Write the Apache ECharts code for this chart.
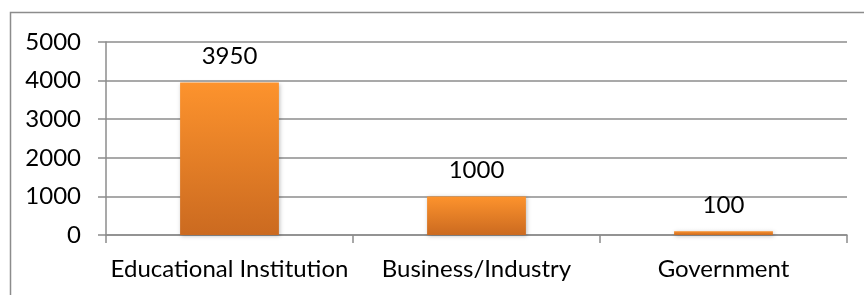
<!DOCTYPE html>
<html>
<head>
<meta charset="utf-8">
<script src="https://cdn.jsdelivr.net/npm/echarts@6/dist/echarts.min.js"></script>
<style>
html,body{margin:0;padding:0;background:#fff;}
#c{width:864px;height:295px;}
</style>
</head>
<body>
<div id="c"></div>
<script>
const categories = ['Educational Institution', 'Business/Industry', 'Government'];
const values = [3950, 1000, 100];
const yTicks = [0, 1000, 2000, 3000, 4000, 5000];

const chart = echarts.init(document.getElementById('c'), null, {renderer: 'canvas'});
const FONT = 'Lato';
const FS = 24;
chart.setOption({
  animation: false,
  backgroundColor: '#ffffff',
  graphic: [{
    type: 'rect',
    shape: {x: 10.5, y: 12.5, width: 900, height: 400},
    style: {fill: 'none', stroke: '#8c8c8c', lineWidth: 1.5},
    silent: true,
    z: -1
  }],
  grid: {left: 106, top: 42, right: 17, bottom: 60},
  xAxis: {
    type: 'category',
    data: categories,
    axisLine: {show: true, lineStyle: {color: '#8c8c8c', width: 1.5}},
    axisTick: {show: true, length: 8, alignWithLabel: false, lineStyle: {color: '#8c8c8c', width: 1.5}},
    axisLabel: {color: '#000', fontFamily: FONT, fontSize: FS, margin: 22, interval: 0}
  },
  yAxis: {
    type: 'value',
    min: yTicks[0],
    max: yTicks[yTicks.length - 1],
    interval: 1000,
    axisLine: {show: true, lineStyle: {color: '#8c8c8c', width: 1.5}},
    axisTick: {show: true, length: 8, lineStyle: {color: '#8c8c8c', width: 1.5}},
    splitLine: {show: true, lineStyle: {color: '#8c8c8c', width: 1.5}},
    axisLabel: {color: '#000', fontFamily: FONT, fontSize: FS, margin: 25, formatter: v => String(v)}
  },
  series: [{
    type: 'bar',
    data: values,
    barWidth: '40%',
    itemStyle: {
      color: {
        type: 'linear', x: 0, y: 0, x2: 0, y2: 1,
        colorStops: [
          {offset: 0, color: '#fd932d'},
          {offset: 1, color: '#cb6a20'}
        ]
      },
      shadowColor: 'rgba(0,0,0,0.25)',
      shadowBlur: 4,
      shadowOffsetX: 1,
      shadowOffsetY: 1
    },
    label: {
      show: true,
      position: 'top',
      distance: 14,
      color: '#000',
      fontFamily: FONT,
      fontSize: FS
    }
  }]
});
</script>
</body>
</html>
